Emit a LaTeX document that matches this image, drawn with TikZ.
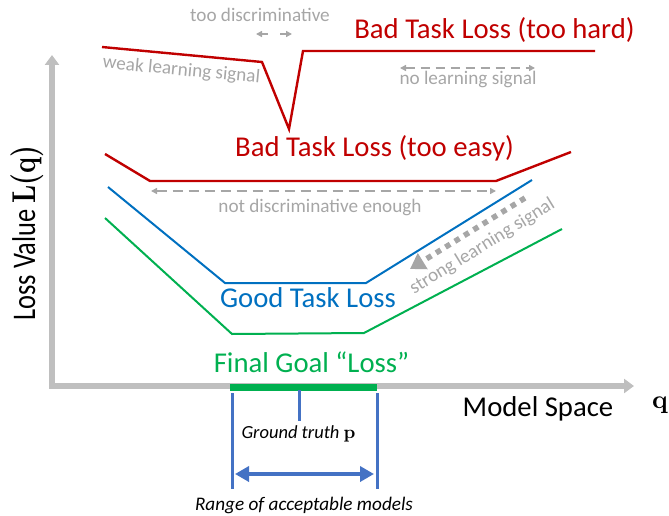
\documentclass[tikz,border=0pt]{standalone}
\usepackage[no-math]{fontspec}
\setmainfont{Carlito}
\newfontfamily\lmrb[Extension=.otf]{lmroman10-bold}
\usepackage{graphicx}
\usetikzlibrary{arrows.meta}
\definecolor{cred}{HTML}{C00000}
\definecolor{cblue}{HTML}{0070C0}
\definecolor{cgreen}{HTML}{00B050}
\definecolor{cgray}{HTML}{A6A6A6}
\definecolor{caxis}{HTML}{BFBFBF}
\definecolor{cbar}{HTML}{4472C4}
\begin{document}
\begin{tikzpicture}[x=1pt,y=-1pt,
  big/.style={font=\fontsize{28.7}{30}\selectfont, inner sep=0pt, anchor=base},
  note/.style={font=\fontsize{19.2}{20}\selectfont, text=cgray, inner sep=0pt, anchor=base},
  redline/.style={cred, line width=2.4},
  blueline/.style={cblue, line width=2},
  greenline/.style={cgreen, line width=2},
  grayarrow/.style={cgray, line width=1.5, -{Triangle[width=6pt,length=6pt]}},
  barline/.style={cbar, line width=3},
]
\useasboundingbox (0,0) rectangle (669,516);

% axes
\coordinate (ytop) at (52,55);
\coordinate (O) at (52,386);
\coordinate (xend) at (634,386);
\draw[caxis, line width=6.5, {Triangle[width=14pt,length=10pt]}-{Triangle[width=14pt,length=10pt]}] (ytop) -- (O) -- (xend);

% curves
\draw[redline] (102,47) -- (262,62) -- (289,129) -- (303,51) -- (595,51);
\draw[redline] (105,154) -- (150,181) -- (496,181) -- (571,152);
\draw[blueline] (108,187) -- (225,283) -- (366,283) -- (532,180);
\draw[greenline] (105,218) -- (232,334) -- (364,333) -- (562,229);

% green bar
\coordinate (gb1) at (230,387);
\coordinate (gb2) at (377,387);
\draw[cgreen, line width=7] (gb1) -- (gb2);

% blue markers
\coordinate (l1) at (232,393); \coordinate (l2) at (232,489);
\coordinate (r1) at (377,393); \coordinate (r2) at (377,489);
\coordinate (m1) at (299,390); \coordinate (m2) at (299,421);
\draw[barline] (l1) -- (l2);
\draw[barline] (r1) -- (r2);
\draw[barline] (m1) -- (m2);
\coordinate (a1) at (235,474); \coordinate (a2) at (374,474);
\draw[cbar, line width=4, {Triangle[width=15pt,length=14pt]}-{Triangle[width=15pt,length=14pt]}] (a1) -- (a2);

% gray arrows
\coordinate (t1) at (268,34); \coordinate (t2) at (256,34);
\coordinate (t3) at (280,34); \coordinate (t4) at (292,34);
\draw[grayarrow] (t1) -- (t2);
\draw[grayarrow] (t3) -- (t4);
\coordinate (n1) at (400,68); \coordinate (n2) at (535,68);
\draw[grayarrow, {Triangle[width=6pt,length=6pt]}-{Triangle[width=6pt,length=6pt]}, dash pattern=on 9pt off 6pt] (n1) -- (n2);
\coordinate (d1) at (151,191); \coordinate (d2) at (496,191);
\draw[grayarrow, {Triangle[width=6pt,length=6pt]}-{Triangle[width=6pt,length=6pt]}, dash pattern=on 10pt off 6pt] (d1) -- (d2);
\coordinate (s1) at (525,198); \coordinate (s2) at (410,269);
\draw[cgray, line width=5.5, dash pattern=on 5.5pt off 5.5pt, -{Triangle[width=18pt,length=15pt]}] (s1) -- (s2);

% labels
\node[big, text=cred] (hard) at (494.5,39) {Bad Task Loss (too hard)};
\node[big, text=cred] (easy) at (374.5,157) {Bad Task Loss (too easy)};
\node[big, text=cblue] (good) at (308,307) {Good Task Loss};
\node[big, text=cgreen] (final) at (311.5,372) {Final Goal “Loss”};
\node[big] (ms) at (538,416) {Model Space};
\node[inner sep=0pt, anchor=base, font=\fontsize{26}{26}\selectfont\lmrb] (q) at (660,408) {q};
\node[inner sep=0pt, anchor=base, rotate=90, font=\fontsize{33}{33}\selectfont] (ylab) at (35,233) {\scalebox{0.8}[1]{Loss Value {\lmrb L(q)}}};

\node[note] (td) at (260,22) {too discriminative};
\node[note, rotate=-5.5] (weak) at (181,75.5) {weak learning signal};
\node[note] (nls) at (468,85) {no learning signal};
\node[note] (nde) at (320,212) {not discriminative enough};
\node[note, rotate=31.5] (sls) at (485,251) {strong learning signal};

\node[inner sep=0pt, anchor=base, font=\fontsize{18.5}{19}\selectfont\itshape] (gt) at (298.5,438) {Ground truth {\upshape\lmrb p}};
\node[inner sep=0pt, anchor=base, font=\fontsize{19.2}{20}\selectfont\itshape] (range) at (304,510) {Range of acceptable models};
\end{tikzpicture}
\end{document}
